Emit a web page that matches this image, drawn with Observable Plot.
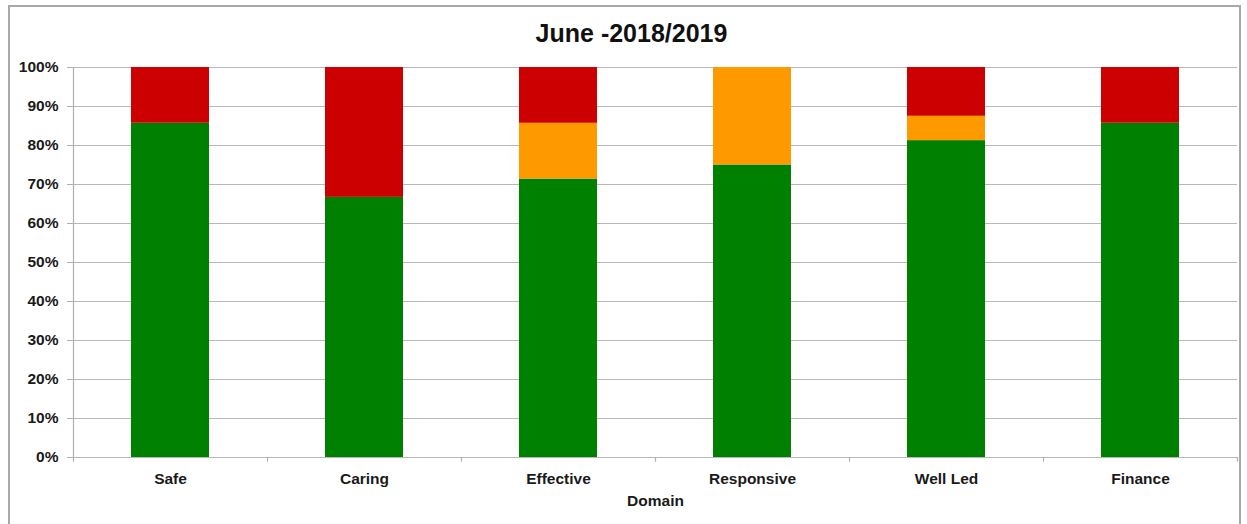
<!DOCTYPE html>
<html>
<head>
<meta charset="utf-8">
<script src="https://cdn.jsdelivr.net/npm/d3@7"></script>
<script src="https://cdn.jsdelivr.net/npm/@observablehq/plot@0.6"></script>
<style>
  html, body { margin: 0; padding: 0; background: #fff; }
  body { width: 1247px; height: 524px; overflow: hidden; position: relative; font-family: "Liberation Sans", Arial, sans-serif; }
  #frame { position: absolute; left: 8px; top: 5px; width: 1233px; height: 530px; border: 2px solid #a8a8a8; box-sizing: border-box; }
  #title { position: absolute; left: 0; top: 0; width: 1263px; height: 50px; line-height: 66px; text-align: center; font-size: 25px; font-weight: bold; color: #111; }
  #chart { position: absolute; left: 0; top: 50px; }
</style>
</head>
<body>
<div id="frame"></div>
<div id="title">June -2018/2019</div>
<div id="chart"></div>
<script>
const categories = ["Safe", "Caring", "Effective", "Responsive", "Well Led", "Finance"];
const statuses = ["Green", "Amber", "Red"];
const greenValues = [85.7, 66.7, 71.4, 75.0, 81.25, 85.7];
const amberValues = [0, 0, 14.3, 25.0, 6.25, 0];
const redValues = [14.3, 33.3, 14.3, 0, 12.5, 14.3];
const colors = ["#008000", "#FF9900", "#CC0000"];
const yTicks = [0, 10, 20, 30, 40, 50, 60, 70, 80, 90, 100];

const seriesValues = [greenValues, amberValues, redValues];
const rows = [];
categories.forEach((c, i) => {
  statuses.forEach((s, j) => {
    rows.push({domain: c, status: s, value: seriesValues[j][i] / 100});
  });
});

const step = (1247 - 73 - 10) / categories.length;

const chart = Plot.plot({
  width: 1247,
  height: 474,
  marginTop: 17,
  marginBottom: 67,
  marginLeft: 73,
  marginRight: 10,
  style: {fontFamily: "'Liberation Sans', Arial, sans-serif", fontSize: "15.5px", fontWeight: "bold", color: "#1a1a1a", background: "transparent", overflow: "visible"},
  x: {domain: categories, paddingInner: 0.6, paddingOuter: 0.3, label: null},
  y: {domain: [0, 1], label: null},
  color: {domain: statuses, range: colors},
  marks: [
    Plot.gridY(yTicks.map(d => d / 100), {stroke: "#b8b8b8", strokeOpacity: 1, strokeWidth: 1.2}),
    Plot.barY(rows, {x: "domain", y: "value", fill: "status", order: statuses}),
    Plot.axisY(yTicks.map(d => d / 100), {tickFormat: d => Math.round(d * 100) + "%", tickSize: 6, tickPadding: 9, stroke: "#b0b0b0", label: null, fontWeight: "bold"}),
    Plot.ruleX([0], {x: () => categories[0], dx: -step / 2, y1: 0, y2: 1, stroke: "#b0b0b0", strokeWidth: 1.2}),
    Plot.ruleX(categories, {x: d => d, dx: -step / 2, y1: 0, y2: -0.012, stroke: "#b0b0b0", strokeWidth: 1.2}),
    Plot.ruleX([categories[categories.length - 1]], {x: d => d, dx: step / 2, y1: 0, y2: -0.012, stroke: "#b0b0b0", strokeWidth: 1.2}),
    Plot.axisX({tickSize: 0, tickPadding: 15, label: "Domain", labelAnchor: "center", labelOffset: 48, fontWeight: "bold"})
  ]
});
document.getElementById("chart").appendChild(chart);
</script>
</body>
</html>
